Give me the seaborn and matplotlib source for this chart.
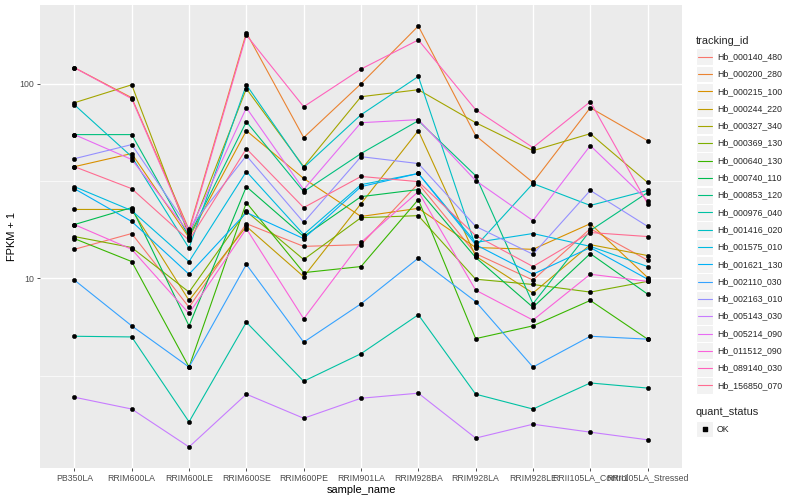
import numpy as np
import pandas as pd
import matplotlib
matplotlib.use("Agg")
import matplotlib.pyplot as plt
from matplotlib.patches import Rectangle
from matplotlib.ticker import FixedLocator, NullFormatter
import seaborn as sns

# samples on the x axis
samples = ["PB350LA", "RRIM600LA", "RRIM600LE", "RRIM600SE", "RRIM600PE",
           "RRIM901LA", "RRIM928BA", "RRIM928LA", "RRIM928LE",
           "RRII105LA_Control", "RRII105LA_Stressed"]

tracking_ids = ["Hb_000140_480", "Hb_000200_280", "Hb_000215_100", "Hb_000244_220",
                "Hb_000327_340", "Hb_000369_130", "Hb_000640_130", "Hb_000740_110",
                "Hb_000853_120", "Hb_000976_040", "Hb_001416_020", "Hb_001575_010",
                "Hb_001621_130", "Hb_002110_030", "Hb_002163_010", "Hb_005143_030",
                "Hb_005214_090", "Hb_011512_090", "Hb_089140_030", "Hb_156850_070"]

# FPKM + 1 per gene, one value per sample
hb_000140_480 = [14.1, 17.0, 7.1, 19.1, 14.6, 14.9, 30.7, 13.4, 9.8, 18.0, 12.4]
hb_000200_280 = [121, 84.8, 17.8, 183, 52.9, 100, 198, 54.1, 31.1, 75.3, 51.0]
hb_000215_100 = [37.5, 43.8, 16.2, 57.4, 32.6, 20.8, 22.9, 14.4, 14.1, 19.1, 10.1]
hb_000244_220 = [22.6, 22.6, 7.7, 18.5, 10.2, 24.2, 57.4, 13.0, 8.4, 14.9, 13.1]
hb_000327_340 = [79.9, 98.8, 16.6, 94.3, 37.5, 85.8, 93.2, 63.1, 45.3, 55.4, 31.1]
hb_000369_130 = [16.4, 14.4, 8.5, 22.1, 12.5, 20.5, 21.0, 9.9, 9.3, 8.5, 9.65]
hb_000640_130 = [16.0, 12.2, 3.5, 24.5, 10.7, 11.5, 25.4, 4.9, 5.7, 7.7, 4.87]
hb_000740_110 = [18.9, 23.1, 5.7, 29.6, 16.4, 26.3, 28.6, 12.8, 7.1, 13.4, 8.3]
hb_000853_120 = [54.8, 54.8, 16.4, 63.8, 27.9, 43.8, 64.6, 33.7, 7.4, 17.6, 27.6]
hb_000976_040 = [5.04, 5.0, 1.83, 5.95, 2.96, 4.1, 6.5, 2.54, 2.13, 2.9, 2.73]
hb_001416_020 = [78.0, 42.2, 14.3, 98.8, 37.1, 69.3, 109, 14.6, 30.7, 23.7, 28.3]
hb_001575_010 = [29.6, 22.3, 12.2, 35.4, 16.8, 30.3, 34.6, 15.3, 17.0, 14.6, 11.5]
hb_001621_130 = [28.9, 19.6, 10.5, 21.8, 16.0, 29.6, 34.6, 14.9, 10.5, 14.4, 9.9]
hb_002110_030 = [9.8, 5.7, 3.5, 11.8, 4.7, 7.4, 12.7, 7.6, 3.5, 5.04, 4.87]
hb_002163_010 = [41.2, 48.7, 18.0, 42.7, 19.4, 42.2, 38.9, 18.5, 13.3, 28.3, 18.5]
hb_005143_030 = [2.45, 2.13, 1.36, 2.54, 1.91, 2.42, 2.57, 1.51, 1.78, 1.62, 1.48]
hb_005214_090 = [54.8, 40.8, 17.2, 75.3, 28.6, 63.1, 65.4, 31.8, 19.8, 48.1, 25.1]
hb_011512_090 = [18.9, 14.1, 6.6, 18.0, 6.2, 15.3, 27.9, 8.7, 6.1, 10.5, 9.65]
hb_089140_030 = [121, 83.8, 17.4, 178, 76.2, 119, 168, 73.6, 47.0, 80.9, 24.2]
hb_156850_070 = [37.5, 28.9, 15.7, 46.4, 23.1, 33.4, 31.4, 16.6, 11.5, 17.2, 16.4]

series = [hb_000140_480, hb_000200_280, hb_000215_100, hb_000244_220, hb_000327_340,
          hb_000369_130, hb_000640_130, hb_000740_110, hb_000853_120, hb_000976_040,
          hb_001416_020, hb_001575_010, hb_001621_130, hb_002110_030, hb_002163_010,
          hb_005143_030, hb_005214_090, hb_011512_090, hb_089140_030, hb_156850_070]

quant_status = ["OK"]

# ggplot2 default hue palette for 20 levels
hue_colors = ["#F8766D", "#EA8331", "#D89000", "#C09B00", "#A3A500", "#7CAE00",
              "#39B600", "#00BB4E", "#00BF7D", "#00C1A3", "#00BFC4", "#00BAE0",
              "#00B0F6", "#35A2FF", "#9590FF", "#C77CFF", "#E76BF3", "#FA62DB",
              "#FF62BC", "#FF6C91"]

rows = []
for tid, vals in zip(tracking_ids, series):
    for s, v in zip(samples, vals):
        rows.append({"tracking_id": tid, "sample_name": s, "fpkm1": v, "quant_status": "OK"})
df = pd.DataFrame(rows)

sns.set_theme(style="darkgrid")
plt.rcParams["font.family"] = ["Liberation Sans", "DejaVu Sans"]

fig = plt.figure(figsize=(8, 5), dpi=100)
ax = fig.add_axes([40 / 800, 32 / 500, 642 / 800, 463 / 500])
ax.set_facecolor("#EBEBEB")

palette = dict(zip(tracking_ids, hue_colors))
sns.lineplot(data=df, x="sample_name", y="fpkm1", hue="tracking_id", palette=palette,
             estimator=None, sort=False, linewidth=0.8, legend=False, ax=ax, zorder=3)
sns.scatterplot(data=df, x="sample_name", y="fpkm1", color="black", s=10,
                edgecolor="black", linewidth=0.3, legend=False, ax=ax, zorder=4)

ax.set_yscale("log")
lo = np.log10(df["fpkm1"].min())
hi = np.log10(df["fpkm1"].max())
pad = (hi - lo) * 0.05
ax.set_ylim(10 ** (lo - pad), 10 ** (hi + pad))
ax.set_xlim(-0.6, len(samples) - 0.4)

ax.yaxis.set_major_locator(FixedLocator([10, 100]))
ax.set_yticklabels(["10", "100"])
ax.yaxis.set_minor_locator(FixedLocator([10 ** 0.5, 10 ** 1.5]))
ax.yaxis.set_minor_formatter(NullFormatter())

ax.grid(which="major", color="white", linewidth=1.0)
ax.grid(which="minor", axis="y", color="white", linewidth=0.5)
ax.set_axisbelow(True)
for sp in ax.spines.values():
    sp.set_visible(False)

ax.tick_params(which="major", length=2.5, width=0.6, color="#333333",
               labelsize=6.3, labelcolor="#4D4D4D", pad=1.5,
               bottom=True, left=True)
ax.tick_params(which="minor", length=0)
ax.set_xlabel("sample_name", fontsize=7.9, color="black", labelpad=1.5)
ax.set_ylabel("FPKM + 1", fontsize=7.9, color="black", labelpad=2)

# legend drawn in figure pixel space
lax = fig.add_axes([0, 0, 1, 1], facecolor="none")
lax.set_xlim(0, 800)
lax.set_ylim(500, 0)
lax.axis("off")

lax.text(696, 40.5, "tracking_id", fontsize=7.9, va="center", ha="left")
for i, (tid, col) in enumerate(zip(tracking_ids, hue_colors)):
    yc = 56.7 + i * 17.3
    lax.add_patch(Rectangle((696, yc - 8.4), 17.3, 16.8, facecolor="#F2F2F2",
                            edgecolor="white", linewidth=0.8))
    lax.plot([697.7, 711.6], [yc, yc], color=col, linewidth=0.8)
    lax.text(717, yc, tid, fontsize=6.3, va="center", ha="left")

lax.text(696, 412, "quant_status", fontsize=7.9, va="center", ha="left")
for j, st in enumerate(quant_status):
    yc = 429 + j * 17.3
    lax.add_patch(Rectangle((696, yc - 8.4), 17.3, 16.8, facecolor="#F2F2F2",
                            edgecolor="white", linewidth=0.8))
    lax.scatter([704.6], [yc], s=8, color="black", marker="s")
    lax.text(717, yc, st, fontsize=6.3, va="center", ha="left")

fig.savefig("out.png", dpi=100)
plt.close(fig)
